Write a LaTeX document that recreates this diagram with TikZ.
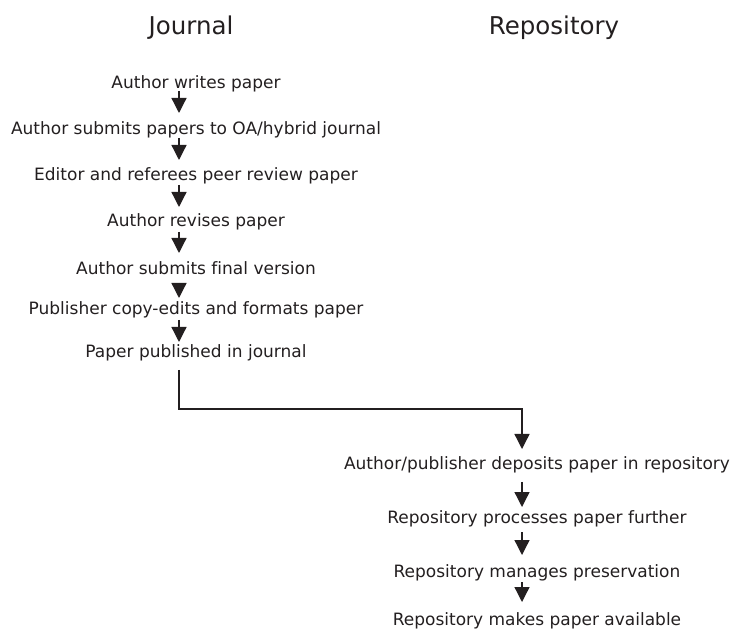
\documentclass[tikz,border=0pt]{standalone}
\usepackage{fontspec}
\setmainfont{DejaVu Sans}[Ligatures={NoCommon}]
\usetikzlibrary{arrows.meta,calc}
\definecolor{ink}{HTML}{231F20}
\begin{document}
\begin{tikzpicture}[x=1pt,y=1pt,
  stepbox/.style={anchor=base,inner sep=0pt,font=\fontsize{17}{20}\selectfont,text=ink},
  titlebox/.style={anchor=base,inner sep=0pt,font=\fontsize{24.5}{29}\selectfont,text=ink},
  arr/.style={draw=ink,line width=1.3pt,-{Triangle[length=15pt,width=15pt]}}]
\useasboundingbox (0,0) rectangle (730,629);
\node[titlebox] (tj) at (191,594) {Journal};
\node[titlebox] (tr) at (554,594) {Repository};
\node[stepbox] (n1) at (196,540) {Author writes paper};
\node[stepbox] (n2) at (196,494) {Author submits papers to OA/hybrid journal};
\node[stepbox] (n3) at (196,448) {Editor and referees peer review paper};
\node[stepbox] (n4) at (196,402) {Author revises paper};
\node[stepbox] (n5) at (196,354) {Author submits final version};
\node[stepbox] (n6) at (196,314) {Publisher copy-edits and formats paper};
\node[stepbox] (n7) at (196,271) {Paper published in journal};
\node[stepbox] (r1) at (537,159) {Author/publisher deposits paper in repository};
\node[stepbox] (r2) at (537,106) {Repository processes paper further};
\node[stepbox] (r3) at (537,52) {Repository manages preservation};
\node[stepbox] (r4) at (537,4) {Repository makes paper available};
\draw[arr] ($(n1.base)+(-17,-2)$) -- ($(n2.base)+(-17,22)$);
\draw[arr] ($(n2.base)+(-17,-3)$) -- ($(n3.base)+(-17,21)$);
\draw[arr] ($(n3.base)+(-17,-4)$) -- ($(n4.base)+(-17,20)$);
\draw[arr] ($(n4.base)+(-17,-5)$) -- ($(n5.base)+(-17,22)$);
\draw[arr] ($(n5.base)+(-17,-8)$) -- ($(n6.base)+(-17,17)$);
\draw[arr] ($(n6.base)+(-17,-5)$) -- ($(n7.base)+(-17,16)$);
\draw[arr] ($(n7.base)+(-17,-12)$) |- ($(r1.base)+(-15,61)$) -- ($(r1.base)+(-15,21)$);
\draw[arr] ($(r1.base)+(-15,-12)$) -- ($(r2.base)+(-15,16)$);
\draw[arr] ($(r2.base)+(-15,-9)$) -- ($(r3.base)+(-15,22)$);
\draw[arr] ($(r3.base)+(-15,-5)$) -- ($(r4.base)+(-15,23)$);
\end{tikzpicture}
\end{document}
